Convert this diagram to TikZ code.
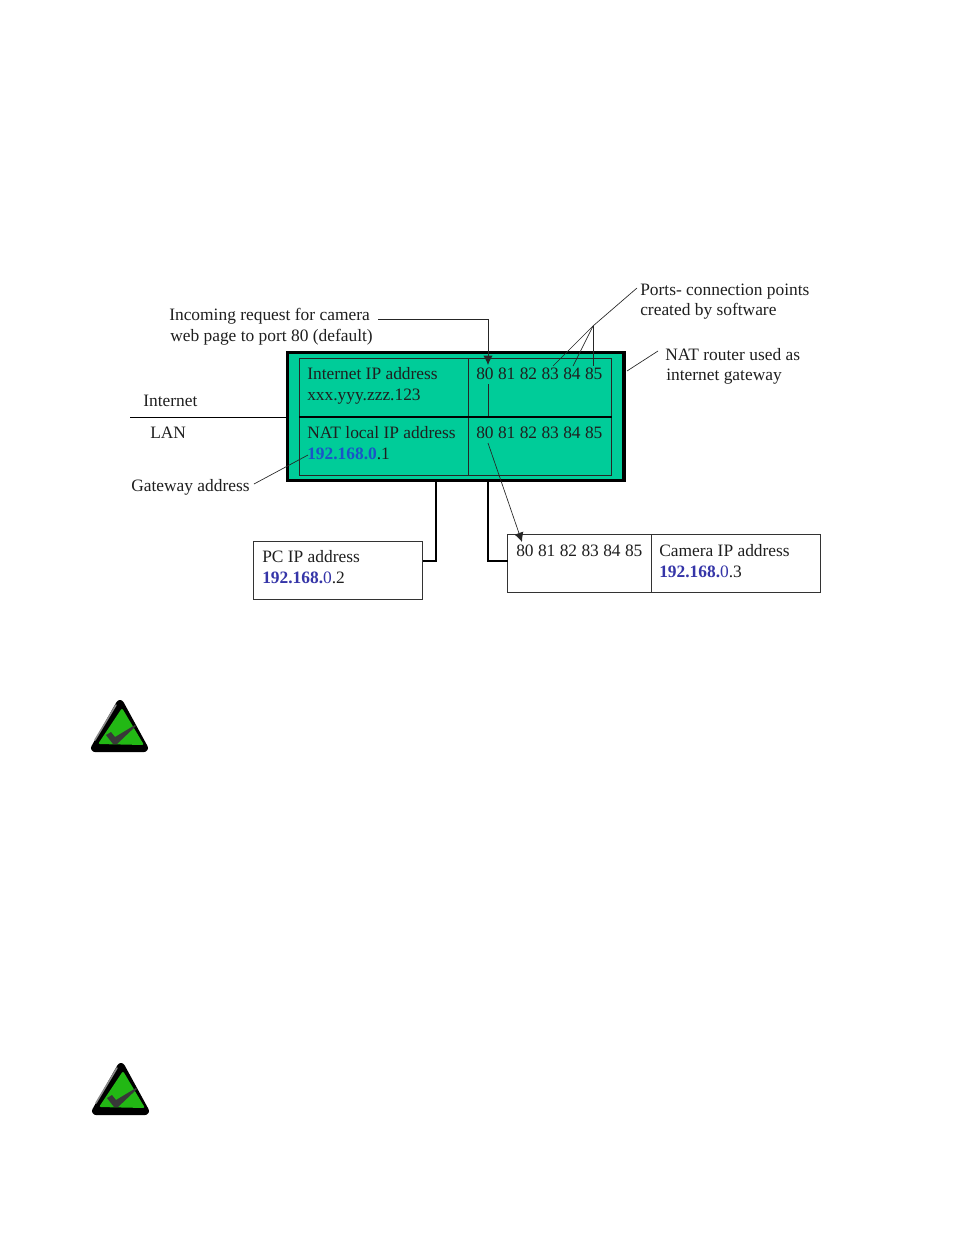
\documentclass[tikz,border=0pt]{standalone}
\usepackage{fontspec}
\setmainfont{Liberation Serif}
\usetikzlibrary{arrows.meta,calc}
\definecolor{routerfill}{HTML}{00CC99}
\definecolor{ipblue}{HTML}{3535A8}
\definecolor{gwblue}{HTML}{1A55C8}
\definecolor{iconGreen}{HTML}{22B814}
\newcommand{\lbl}[4]{\node[lab] (#1) at (#2,#3) {#4};}
\tikzset{
 lab/.style={anchor=base west,inner sep=0pt,font=\fontsize{13.05}{15}\selectfont,text=black!88},
 thin line/.style={draw=black!85,line width=0.5pt},
 heavy/.style={draw=black,line width=2pt},
 boxnode/.style={draw=black!80,line width=0.7pt,fill=white,inner sep=0pt,outer sep=0pt,anchor=north west},
 cellnode/.style={draw=black!85,line width=0.7pt,inner sep=0pt,outer sep=0pt,anchor=north west},
 tip/.style={-{Latex[length=7pt,width=7pt]}},
 pics/okicon/.style={code={
  \filldraw[black,line width=6pt,line join=round] (0,-23) -- (24,21) -- (-25,21) -- cycle;
  \draw[black!45,line width=1.2pt,line cap=round] (-4,-22) -- (-25,13);
  \fill[iconGreen,rounded corners=1.5pt] (2,-19) -- (24,18) -- (-22,17) -- cycle;
  \fill[black!78] (-14,8) -- (-9,5) -- (-5,10) -- (15,-2) -- (16,-1) -- (-3,17) -- (-7,17) -- cycle;
 }}
}
\begin{document}
\begin{tikzpicture}[x=0.75pt,y=-0.75pt]
\useasboundingbox (0,0) rectangle (954,1235);
\fill[white] (0,0) rectangle (954,1235);

% router
\node[draw=black,line width=2.6pt,fill=routerfill,inner sep=0pt,outer sep=0pt,anchor=north west,minimum width=252.4pt,minimum height=96.3pt] (router) at (287.5,352.3) {};
\node[cellnode,minimum width=126.75pt,minimum height=44.25pt] (cellA) at (299.3,358.3) {};
\node[cellnode,minimum width=107.5pt,minimum height=44.25pt] (cellB) at (468.3,358.3) {};
\node[cellnode,minimum width=126.75pt,minimum height=43.5pt] (cellC) at (299.3,417) {};
\node[cellnode,minimum width=107.5pt,minimum height=43.5pt] (cellD) at (468.3,417) {};

% lower boxes
\node[boxnode,minimum width=126.75pt,minimum height=43.5pt] (pc) at (253.5,541.5) {};
\node[boxnode,minimum width=108pt,minimum height=43.5pt] (camports) at (507.5,534.5) {};
\node[boxnode,minimum width=126.75pt,minimum height=43.5pt] (camaddr) at (651.5,534.5) {};

% text
\lbl{t1}{169}{320}{Incoming request for camera}
\lbl{t2}{170}{341}{web page to port 80 (default)}
\lbl{t3}{640}{295}{Ports- connection points}
\lbl{t4}{640}{315}{created by software}
\lbl{t5}{665}{360}{NAT router used as}
\lbl{t6}{666}{380}{internet gateway}
\lbl{t7}{143}{406}{Internet}
\lbl{t8}{150}{438}{LAN}
\lbl{t9}{131}{491}{Gateway address}
\lbl{t10}{307}{379}{Internet IP address}
\lbl{t11}{307}{400}{xxx.yyy.zzz.123}
\lbl{t12}{307}{438}{NAT local IP address}
\lbl{t13}{307}{459}{\textcolor{gwblue}{\textbf{192.168.0}}.1}
\lbl{t14}{476}{379}{80 81 82 83 84 85}
\lbl{t15}{476}{438}{80 81 82 83 84 85}
\lbl{t16}{262}{562}{PC IP address}
\lbl{t17}{262}{583}{\textcolor{ipblue}{\textbf{192.168.}0}.2}
\lbl{t18}{516}{556}{80 81 82 83 84 85}
\lbl{t19}{659}{556}{Camera IP address}
\lbl{t20}{659}{577}{\textcolor{ipblue}{\textbf{192.168.}0}.3}

% coordinates of free ends and bends
\coordinate (inStart) at (378,319.5);
\coordinate (inBend) at (488,319.5);
\coordinate (inEnd) at (488,365);
\coordinate (p80a) at (488,384);
\coordinate (p80b) at (488,417);
\coordinate (p80c) at (488,443);
\coordinate (p80d) at (522,542);
\coordinate (apex) at (593,326);
\coordinate (ptop) at (637,288);
\coordinate (p83) at (553,366);
\coordinate (p84) at (573,366);
\coordinate (p85) at (593,366);
\coordinate (natA) at (627,371);
\coordinate (natB) at (658,351);
\coordinate (gwA) at (254,484);
\coordinate (gwB) at (308,455);
\coordinate (netA) at (130,417);
\coordinate (pcBus) at (436,482);
\coordinate (pcBend) at (436,561);
\coordinate (camBus) at (488,482);
\coordinate (camBend) at (488,561);

% connectors
\draw[thin line,tip,line width=0.7pt] (inStart) -- (inBend) -- (inEnd);
\draw[thin line,line width=0.7pt] (p80a) -- (p80b);
\draw[thin line,tip,line width=0.5pt] (p80c) -- (p80d);
\draw[thin line] (ptop) -- (apex) -- (p83);
\draw[thin line] (apex) -- (p84);
\draw[thin line] (apex) -- (p85);
\draw[thin line] (natA) -- (natB);
\draw[thin line] (gwA) -- (gwB);
\draw[draw=black,line width=0.6pt] (netA) -- (router.west |- netA);
\draw[draw=black,line width=1pt] (cellC.north west) -- (cellD.north east);
\draw[heavy] (pcBus) -- (pcBend) -- (pcBend -| pc.east);
\draw[heavy] (camBus) -- (camBend) -- (camBend -| camports.west);

% note icons
\pic at (120,727) {okicon};
\pic at (121,1090) {okicon};
\end{tikzpicture}
\end{document}
